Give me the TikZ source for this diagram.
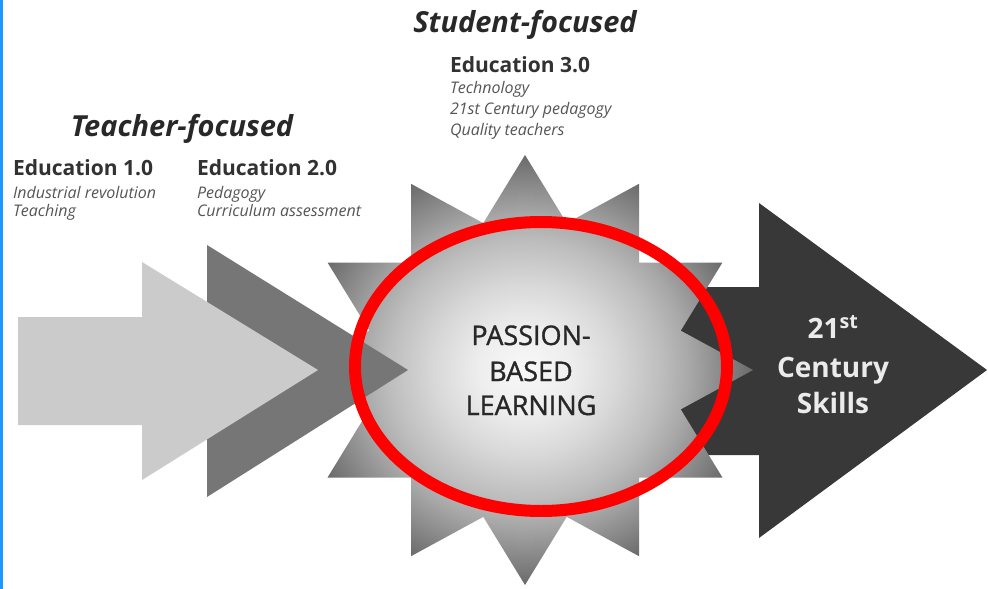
\documentclass[tikz,border=0pt]{standalone}
\usepackage{fontspec}
\setmainfont{Open Sans}
\newfontfamily\semib[FakeBold=1.2]{Open Sans}
\definecolor{bluebar}{RGB}{30,150,255}
\definecolor{lightarr}{RGB}{203,203,203}
\definecolor{midarr}{RGB}{118,118,118}
\definecolor{darkarr}{RGB}{56,56,56}
\definecolor{headtxt}{RGB}{40,40,40}
\definecolor{edutxt}{RGB}{50,50,50}
\definecolor{subtxt}{RGB}{85,85,85}
\definecolor{pbltxt}{RGB}{40,40,40}
\definecolor{skltxt}{RGB}{235,235,235}
\definecolor{redring}{RGB}{255,0,0}
\definecolor{stA}{RGB}{248,248,248}
\definecolor{stB}{RGB}{238,238,238}
\definecolor{stC}{RGB}{216,216,216}
\definecolor{stD}{RGB}{189,189,189}
\definecolor{stE}{RGB}{168,168,168}
\definecolor{stF}{RGB}{142,142,142}
\definecolor{stG}{RGB}{106,106,106}
\definecolor{stH}{RGB}{80,80,80}
\pgfdeclareradialshading{starshade}{\pgfpoint{0bp}{0bp}}{color(0bp)=(stA); color(5bp)=(stB); color(10bp)=(stC); color(15bp)=(stD); color(18bp)=(stE); color(21bp)=(stF); color(25bp)=(stG); color(50bp)=(stH)}
\begin{document}
\begin{tikzpicture}[x=1pt,y=-1pt,
  every node/.style={inner sep=0pt, outer sep=0pt},
  headlbl/.style={font=\fontsize{29}{32}\selectfont\bfseries\itshape, text=headtxt, anchor=base},
  edulbl/.style={font=\fontsize{21}{25}\selectfont\bfseries, text=edutxt, anchor=base west},
  sublbl/.style={font=\fontsize{16}{19}\selectfont\itshape, text=subtxt, anchor=base west},
  pbllbl/.style={font=\semib\fontsize{27}{30}\selectfont, text=pbltxt, anchor=base},
  skllbl/.style={font=\fontsize{28}{32}\selectfont\bfseries, text=skltxt, anchor=base}]
\useasboundingbox (0,0) rectangle (988,589);
\fill[white] (0,0) rectangle (988,589);
\fill[bluebar] (0,0) rectangle (3,589);

% dark arrow (21st Century Skills)
\fill[darkarr] (640,287) -- (759,287) -- (759,203) -- (987,370) -- (759,538) -- (759,455) -- (640,455) -- cycle;

% star coordinates (12 points)
\foreach \i in {0,...,11}{
  \coordinate (s\i) at ({525+228*cos(30*\i)},{370-215*sin(30*\i)});
}
\shade[shading=starshade]
  (s3) -- (s7) -- (s11) -- cycle
  (s4) -- (s8) -- (s0) -- cycle
  (s5) -- (s9) -- (s1) -- cycle
  (s6) -- (s10) -- (s2) -- cycle;

% grey triangle and light arrow
\fill[midarr] (207,245) -- (408,370) -- (207,497) -- cycle;
\fill[lightarr] (18,317) -- (142,317) -- (142,262) -- (318,370) -- (142,480) -- (142,425) -- (18,425) -- cycle;

% red ellipse
\draw[redring, line width=12pt] (541,366.5) ellipse [x radius=186, y radius=144.5];

% center text
\node[pbllbl] (p1) at (531,345) {PASSION-};
\node[pbllbl] (p2) at (531,381) {BASED};
\node[pbllbl] (p3) at (531,415) {LEARNING};

% skills text
\node[skllbl] (k1) at (833,338) {21\textsuperscript{st}};
\node[skllbl] (k2) at (833,377) {Century};
\node[skllbl] (k3) at (833,413) {Skills};

% headings
\node[headlbl] (tf) at (182,136) {Teacher-focused};
\node[headlbl] (sf) at (525,32) {Student-focused};

\node[edulbl] (e1) at (13,175) {Education 1.0};
\node[sublbl] (e1a) at (13,198) {Industrial revolution};
\node[sublbl] (e1b) at (13,216) {Teaching};

\node[edulbl] (e2) at (197,175) {Education 2.0};
\node[sublbl] (e2a) at (197,198) {Pedagogy};
\node[sublbl] (e2b) at (197,216) {Curriculum assessment};

\node[edulbl] (e3) at (450,72) {Education 3.0};
\node[sublbl] (e3a) at (450,93) {Technology};
\node[sublbl] (e3b) at (450,114) {21st Century pedagogy};
\node[sublbl] (e3c) at (450,135) {Quality teachers};
\end{tikzpicture}
\end{document}
